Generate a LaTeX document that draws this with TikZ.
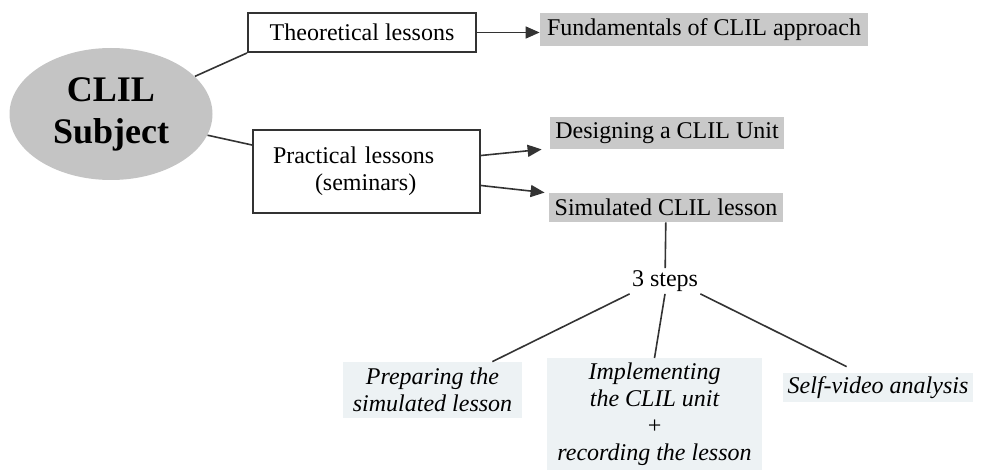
\documentclass[tikz,border=0pt]{standalone}
\usepackage{fontspec}
\setmainfont{Liberation Serif}
\usepackage{tikz}
\usetikzlibrary{shapes.geometric,arrows.meta}
\definecolor{boxgray}{RGB}{201,201,201}
\definecolor{ovalgray}{RGB}{196,196,196}
\definecolor{stepfill}{RGB}{237,242,244}
\definecolor{linegray}{RGB}{51,51,51}

\begin{document}
\begin{tikzpicture}[x=0.5pt,y=-0.5pt,
            font=\fontsize{12pt}{13.5pt}\selectfont,
            lessonbox/.style={draw=linegray, line width=1pt, inner sep=0pt},
            topicbox/.style={fill=boxgray, inner sep=0pt},
            stepbox/.style={fill=stepfill, inner sep=0pt, font=\fontsize{12pt}{13.5pt}\itshape},
            link/.style={draw=linegray, line width=0.8pt},
            arr/.style={link, -{Triangle[length=7pt,width=6pt]}}]
            \useasboundingbox (0,0) rectangle (983,470);
            \node[ellipse, fill=ovalgray, minimum width=101.5pt, minimum height=66pt, inner sep=0pt, align=center, font=\fontsize{18pt}{21pt}\bfseries] (subj) at (111,114) {CLIL\\Subject};
            \node[lessonbox, minimum width=114pt, minimum height=19.5pt] (theo) at (362,32.5) {Theoretical lessons};
            \node[lessonbox, minimum width=113.5pt, minimum height=41.5pt, text width=93.5pt, inner xsep=10pt, align=left] (prac) at (366.5,171.5) {Practical lessons\\\hspace*{21pt}(seminars)};
            \node[topicbox, minimum width=164pt, minimum height=16.5pt] (fund) at (704,29.5) {Fundamentals of CLIL approach};
            \node[topicbox, minimum width=117pt, minimum height=16pt] (design) at (667,133) {Designing a CLIL Unit};
            \node[topicbox, minimum width=117pt, minimum height=14.5pt] (sim) at (666,207.5) {Simulated CLIL lesson};
            \node[inner sep=1pt] (steps) at (665,281) {3 steps};
            \node[stepbox, minimum width=89.5pt, minimum height=28pt, align=center] (prep) at (432.5,390) {Preparing the\\simulated lesson};
            \node[stepbox, minimum width=107.5pt, minimum height=56pt, anchor=north, align=center] (impl) at (654.5,358) {Implementing\\the CLIL unit\\+\\recording the lesson};
            \node[stepbox, minimum width=95pt, minimum height=14.5pt] (self) at (878,387.5) {Self-video analysis};
            \draw[link] (subj) -- (theo.south west);
            \draw[link] (subj) -- ([yshift=-8pt]prac.north west);
            \draw[arr] (theo.east) -- (theo.east -| fund.west);
            \draw[arr] ([yshift=8pt]prac.east) -- ([xshift=-4pt]design.south west);
            \draw[arr] ([yshift=-7pt]prac.east) -- ([xshift=-2pt]sim.north west);
            \draw[link] (sim) -- (steps);
            \draw[link] (steps.south west) -- ([xshift=-15pt]prep.north east);
            \draw[link] (steps.south) -- (impl.north);
            \draw[link] (steps.south east) -- ([xshift=32pt,yshift=3pt]self.north west);
        \end{tikzpicture}
\end{document}
